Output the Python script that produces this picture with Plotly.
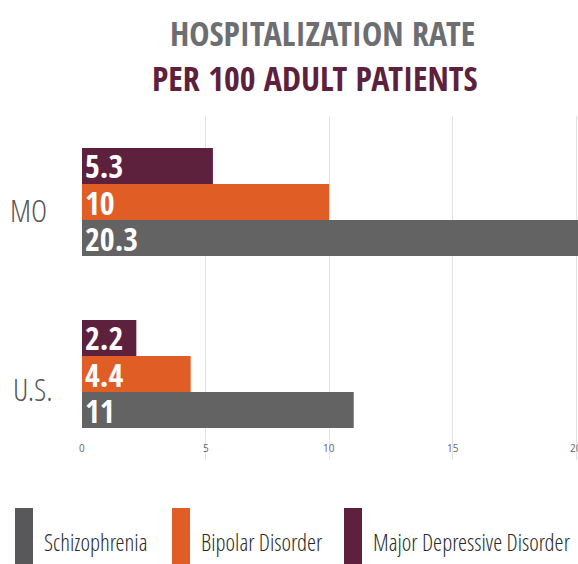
import plotly.graph_objects as go

categories = ["MO", "U.S."]
series_names = ["Schizophrenia", "Bipolar Disorder", "Major Depressive Disorder"]
schizophrenia = [20.3, 11]
bipolar = [10, 4.4]
major_depressive = [5.3, 2.2]
series_values = [schizophrenia, bipolar, major_depressive]
colors = ["#636363", "#E05E26", "#5E213D"]
legend_colors = ["#58585A", "#E05E26", "#5E213D"]
x_ticks = [0, 5, 10, 15, 20]
x_tick_labels = ["0", "5", "10", "15", "20"]

COND = "Open Sans Condensed, Roboto Condensed, sans-serif"
LIGHT = "Open Sans Condensed Light, Roboto Condensed Light, Roboto Condensed, sans-serif"

W, H = 578, 564
L, R, T, B = 82, 0, 116, 104
PW, PH = W - L - R, H - T - B

def px_x(pix):
    return (pix - L) / PW

def px_y(pix):
    return (H - B - pix) / PH

fig = go.Figure()
for name, vals, col in zip(series_names, series_values, colors):
    fig.add_trace(go.Bar(
        y=categories, x=vals, name=name, orientation="h",
        marker=dict(color=col, line=dict(width=0)),
        text=[f"{v:g}" for v in vals],
        textposition="inside", insidetextanchor="start", textangle=0,
        constraintext="none",
        textfont=dict(family=COND, size=32, color="white", weight="bold"),
        hoverinfo="skip", showlegend=False,
    ))

fig.update_layout(
    width=W, height=H,
    margin=dict(l=L, r=R, t=T, b=B),
    barmode="group", bargap=0.372, bargroupgap=0,
    plot_bgcolor="white", paper_bgcolor="white",
    xaxis=dict(range=[0, 20.08], tickvals=x_ticks, showgrid=True,
               gridcolor="#E3E3E3", gridwidth=1, zeroline=False,
               showline=False, ticks="", showticklabels=False,
               automargin=False, fixedrange=True),
    yaxis=dict(categoryorder="array", categoryarray=categories[::-1],
               showgrid=False, zeroline=False, showline=False, ticks="",
               showticklabels=False, automargin=False, fixedrange=True),
)

# category labels (slightly below each group's centre, as in the reference)
label_x_px = [28, 33]
label_yshift = [-8, -15]
for cat, lx, ys in zip(categories, label_x_px, label_yshift):
    fig.add_annotation(text=cat, xref="paper", yref="y", x=px_x(lx), y=cat,
                       xanchor="center", yanchor="middle", yshift=ys, showarrow=False,
                       font=dict(family=LIGHT, size=31, color="#555555", weight=300))

# x tick labels (inside the plot area, just above its bottom edge)
for v, lab in zip(x_ticks, x_tick_labels):
    fig.add_annotation(text=lab, xref="x", yref="paper", x=v, y=px_y(448),
                       xanchor="center", yanchor="middle", showarrow=False,
                       font=dict(family="Open Sans, sans-serif", size=10, color="#666666"))

# title
fig.add_annotation(text="HOSPITALIZATION RATE", xref="paper", yref="paper",
                   x=px_x(322), y=px_y(33), xanchor="center", yanchor="middle",
                   showarrow=False,
                   font=dict(family=COND, size=34, color="#6D6E71", weight="bold"))
fig.add_annotation(text="PER 100 ADULT PATIENTS", xref="paper", yref="paper",
                   x=px_x(315), y=px_y(78), xanchor="center", yanchor="middle",
                   showarrow=False,
                   font=dict(family=COND, size=34, color="#5E213D", weight="bold"))

# custom legend
legend_rect_x = [15, 172, 344]
for name, col, rx in zip(series_names, legend_colors, legend_rect_x):
    fig.add_shape(type="rect", xref="paper", yref="paper",
                  x0=px_x(rx), x1=px_x(rx + 18),
                  y0=px_y(564), y1=px_y(508), fillcolor=col, line=dict(width=0))
    fig.add_annotation(text=name, xref="paper", yref="paper",
                       x=px_x(rx + 27), y=px_y(542), xanchor="left", yanchor="middle",
                       showarrow=False,
                       font=dict(family=LIGHT, size=23, color="#2A2A2A", weight=300))

fig.write_html("out.html", config={"displayModeBar": False},
               post_script="document.body.style.margin='0px';")
